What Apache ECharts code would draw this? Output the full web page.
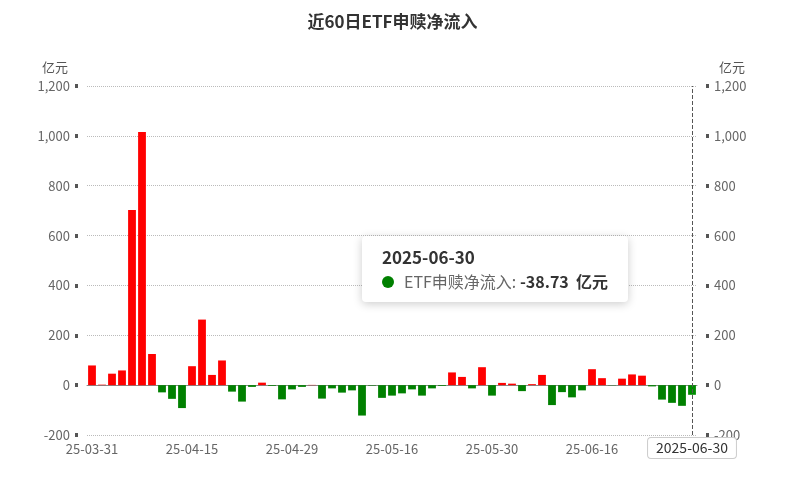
<!DOCTYPE html><html><head><meta charset="utf-8"><script src="https://cdn.jsdelivr.net/npm/echarts@6/dist/echarts.min.js"></script></head><body style="margin:0"><div id="c" style="width:785px;height:495px"></div><script>
const dates=["2025-03-31","2025-04-01","2025-04-02","2025-04-03","2025-04-07","2025-04-08","2025-04-09","2025-04-10","2025-04-11","2025-04-14","2025-04-15","2025-04-16","2025-04-17","2025-04-18","2025-04-21","2025-04-22","2025-04-23","2025-04-24","2025-04-25","2025-04-28","2025-04-29","2025-04-30","2025-05-06","2025-05-07","2025-05-08","2025-05-09","2025-05-12","2025-05-13","2025-05-14","2025-05-15","2025-05-16","2025-05-19","2025-05-20","2025-05-21","2025-05-22","2025-05-23","2025-05-26","2025-05-27","2025-05-28","2025-05-29","2025-05-30","2025-06-03","2025-06-04","2025-06-05","2025-06-06","2025-06-09","2025-06-10","2025-06-11","2025-06-12","2025-06-13","2025-06-16","2025-06-17","2025-06-18","2025-06-19","2025-06-20","2025-06-23","2025-06-24","2025-06-25","2025-06-26","2025-06-27","2025-06-30"];
const flows=[79,2,46,59,703,1015,125,-29,-55,-92,76,263,41,99,-26,-66,-7,10,-3,-57,-17,-7,1,-54,-13,-30,-21,-122,-2,-51,-42,-33,-17,-42,-13,-3,51,33,-13,72,-42,9,6,-24,4,41,-80,-28,-49,-21,64,28,-1,26,43,38,-5,-58,-71,-83,-38.73];
const yTicks={min:-200,max:1200,interval:200};
const F='"Noto Sans CJK SC","Noto Sans",sans-serif';
const ch=echarts.init(document.getElementById('c'));
const yAx=(pos)=>({type:'value',position:pos,offset:9,min:yTicks.min,max:yTicks.max,interval:yTicks.interval,name:'亿元',nameGap:12,
 nameTextStyle:{color:'#555',fontSize:13,align:pos==='left'?'right':'left',padding:pos==='left'?[0,10,0,0]:[0,0,0,13]},
 axisLine:{show:false},axisTick:{show:true,length:3,lineStyle:{width:4,color:'#555'}},
 axisLabel:{color:'#666',fontSize:13,margin:8},splitLine:{show:pos==='left',lineStyle:{type:'dotted',color:'#bbb'}}});
ch.setOption({
 animation:false,
 textStyle:{fontFamily:F},
 title:{text:'近60日ETF申赎净流入',left:'center',top:8,textStyle:{fontSize:17,fontWeight:'bold',color:'#333',fontFamily:F}},
 grid:{left:87,right:88,top:86,bottom:60},
 tooltip:{trigger:'axis',alwaysShowContent:true,position:[362,236],
  axisPointer:{type:'line',lineStyle:{type:'dashed',color:'#555',width:1},label:{show:false}},
  backgroundColor:'#fff',borderWidth:0,extraCssText:'box-shadow:0 2px 10px rgba(0,0,0,0.2);border-radius:4px;padding:10px 20px;font-family:"Noto Sans CJK SC",sans-serif;',
  formatter:p=>`<div style="font-size:17px;font-weight:bold;color:#333;margin-bottom:4px">${p[0].name}</div><div style="font-size:16px;color:#666"><span style="display:inline-block;width:12px;height:12px;border-radius:6px;background:green;margin-right:10px"></span>ETF申赎净流入: <b style="color:#333">${p[0].value}</b>&nbsp;&nbsp;<b style="color:#333">亿元</b></div>`},
 xAxis:{type:'category',data:dates,axisLine:{lineStyle:{color:'#888'}},axisTick:{interval:0,lineStyle:{color:'#888'}},
  axisLabel:{interval:9,color:'#666',fontSize:13,formatter:v=>v.slice(2)},
  axisPointer:{show:true,type:'line',lineStyle:{type:'dashed',color:'#555'},label:{show:true,backgroundColor:'#fff',color:'#333',borderColor:'#ccc',borderWidth:1,fontSize:14,padding:[3,8],shadowBlur:0}}},
 yAxis:[yAx('left'),yAx('right')],
 series:[{type:'bar',data:flows,barWidth:'78%',itemStyle:{color:p=>p.value>=0?'#ff0000':'#008000'}}]
});
setTimeout(()=>ch.dispatchAction({type:'showTip',seriesIndex:0,dataIndex:60}),50);
</script></body></html>
